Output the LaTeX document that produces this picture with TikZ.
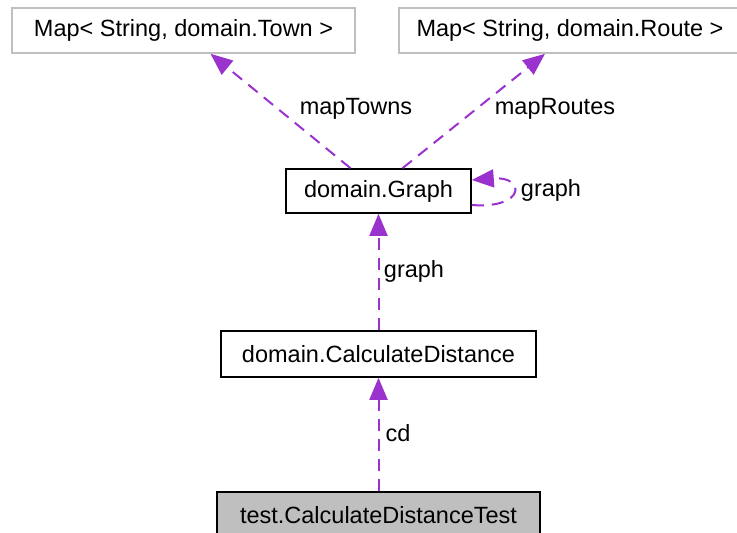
\documentclass[tikz,border=0pt]{standalone}
\usepackage{fontspec}
\setmainfont{Liberation Sans}
\usetikzlibrary{arrows.meta}
\definecolor{dep}{HTML}{9A32CD}
\tikzset{
  cls/.style={draw=black, line width=1.6pt, fill=white, inner sep=0pt, font=\fontsize{23.5}{27}\selectfont},
  ext/.style={cls, draw=gray!50},
  depline/.style={dep, line width=2pt, dash pattern=on 12pt off 8pt, -{Triangle[length=22pt,width=18pt]}},
  lbl/.style={font=\fontsize{23.5}{27}\selectfont, inner sep=0pt}
}
\begin{document}
\begin{tikzpicture}[x=1pt,y=-1pt]
\useasboundingbox (0,0) rectangle (737,533);

\node[ext, minimum width=343pt, minimum height=45pt] (town) at (183.5,30.5) {Map< String, domain.Town >};
\node[ext, minimum width=342pt, minimum height=45pt] (route) at (570,30.5) {Map< String, domain.Route >};

\node[cls, minimum width=185pt, minimum height=44pt] (graph) at (378.5,191) {domain.Graph};
\node[cls, minimum width=315pt, minimum height=46pt] (calc) at (378.5,354) {domain.CalculateDistance};
\node[cls, fill=gray!50, minimum width=323pt, minimum height=46pt] (test) at (378.5,515) {test.CalculateDistanceTest};

% edges
\draw[depline] (graph.north) ++(-28,0) coordinate (gt1) -- ([xshift=27pt]town.south);
\draw[depline] (graph.north) ++(24,0) coordinate (gt2) -- ([xshift=-25pt]route.south);
\draw[depline] ([yshift=-14pt]graph.east) .. controls +(54,4) and +(54,-4) .. ([yshift=11pt]graph.east);
\draw[depline] (calc.north) -- (graph.south);
\draw[depline] (test.north) -- (calc.south);

\node[lbl] (lt) at (356,109) {mapTowns};
\node[lbl] (lr) at (555,109) {mapRoutes};
\node[lbl] (lg) at (551,190) {graph};
\node[lbl] (lg2) at (414,271) {graph};
\node[lbl] (lcd) at (398,433) {cd};

\end{tikzpicture}
\end{document}
